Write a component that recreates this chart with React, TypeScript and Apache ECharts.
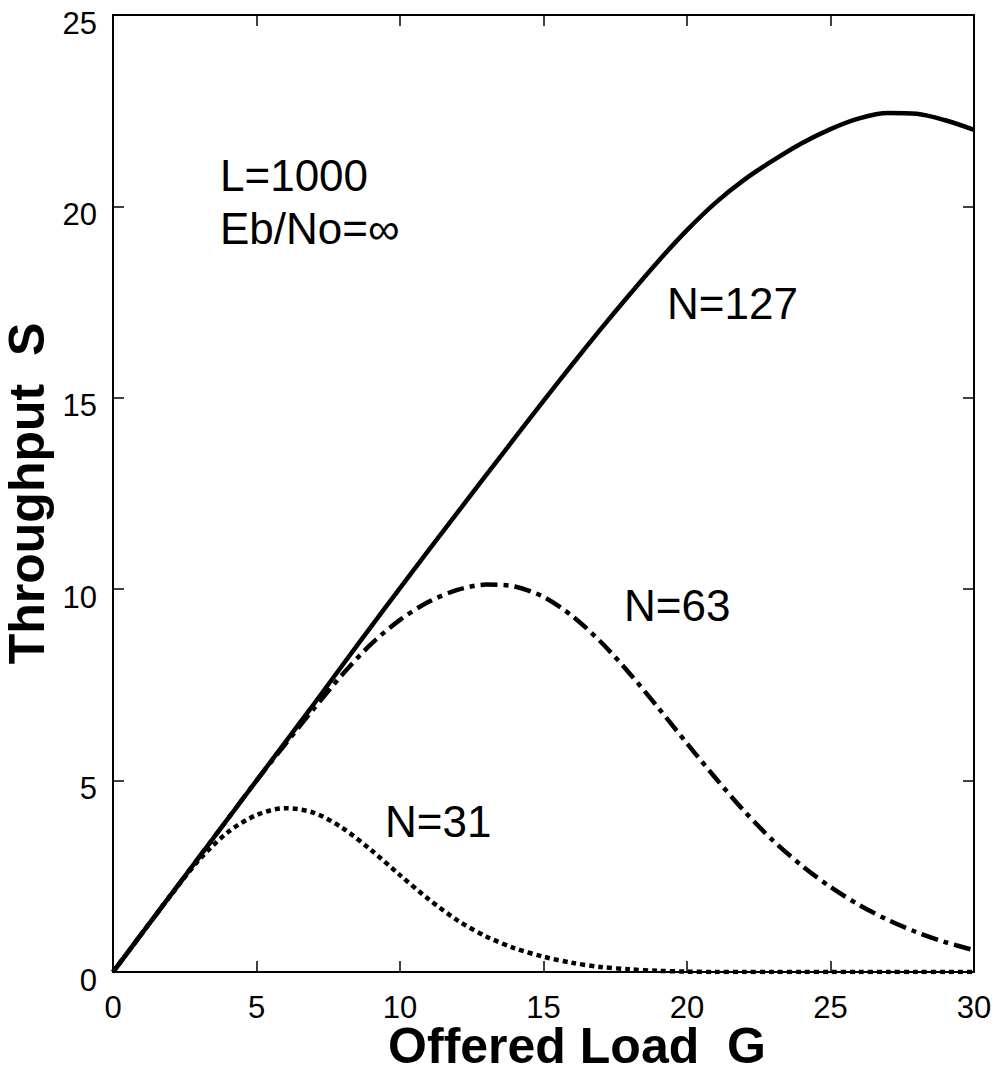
import React, { useEffect, useRef } from "react";
import * as echarts from "echarts";

const loadG = [0,1,2,3,4,5,6,7,8,9,10,11,12,13,14,15,16,17,18,19,20,21,22,23,24,25,26,27,28,29,30];
const sN127 = [0,1,2,3,4,5,6,7,8.02,9.03,10.03,11.02,12.0,12.98,13.95,14.92,15.87,16.8,17.7,18.57,19.38,20.1,20.7,21.2,21.65,22.02,22.3,22.44,22.42,22.25,22.0];
const sN63 = [0,1,2,3,4,5,5.95,6.88,7.78,8.57,9.2,9.67,9.98,10.12,10.07,9.8,9.3,8.62,7.8,6.9,5.97,5.06,4.2,3.43,2.78,2.22,1.75,1.36,1.04,0.78,0.57];
const sN31 = [0,1,1.99,2.93,3.65,4.1,4.28,4.16,3.76,3.18,2.53,1.9,1.35,0.93,0.62,0.4,0.24,0.13,0.07,0.03,0.01,0,0,0,0,0,0,0,0,0,0];
const seriesNames = ["N=127", "N=63", "N=31"];
const infoLines = ["L=1000", "Eb/No=\u221E"];
const xAxisTitle = "Offered Load  G";
const yAxisTitle = "Throughput  S";

const FONT = "'Liberation Sans', Arial, Helvetica, sans-serif";

export default function App() {
  const ref = useRef<HTMLDivElement>(null);
  useEffect(() => {
    if (!ref.current) return;
    const chart = echarts.init(ref.current, null, { renderer: "svg" });
    const pairs = (ys: number[]) => loadG.map((g, i) => [g, ys[i]]);
    const axisLine = { show: true, onZero: false, lineStyle: { color: "#000", width: 2 } };
    const tickIn = { show: true, inside: true, length: 11, lineStyle: { color: "#000", width: 1.5 } };
    const labelStyle = { color: "#000", fontSize: 31, lineHeight: 28, fontFamily: FONT };
    const textStyle = { fill: "#000", fontSize: 44, fontFamily: FONT };
    const nameStyle = { color: "#000", fontSize: 50, lineHeight: 48, fontWeight: "bold", fontFamily: FONT };
    chart.setOption({
      animation: false,
      backgroundColor: "#fff",
      grid: { left: 113, top: 15, right: 22, bottom: 101, containLabel: false, outerBoundsMode: "none" },
      xAxis: [
        {
          type: "value", min: 0, max: 30, interval: 5, position: "bottom",
          axisLine, axisTick: tickIn, splitLine: { show: false },
          axisLabel: { ...labelStyle, margin: 21 },
        },
        {
          type: "value", min: 0, max: 30, interval: 5, position: "top",
          axisLine, axisTick: tickIn, splitLine: { show: false }, axisLabel: { show: false },
        },
      ],
      yAxis: [
        {
          type: "value", min: 0, max: 25, interval: 5, position: "left",
          axisLine, axisTick: tickIn, splitLine: { show: false },
          axisLabel: {
            margin: 16,
            formatter: "{a|{value}}",
            rich: { a: { ...labelStyle, padding: [16, 0, 0, 0] } },
          },
          name: yAxisTitle, nameLocation: "middle", nameGap: 52, nameRotate: 90,
          nameTextStyle: nameStyle,
        },
        {
          type: "value", min: 0, max: 25, interval: 5, position: "right",
          axisLine, axisTick: tickIn, splitLine: { show: false }, axisLabel: { show: false },
        },
      ],
      series: [
        {
          name: seriesNames[0], type: "line", data: pairs(sN127), smooth: 0.3, symbol: "none",
          lineStyle: { color: "#000", width: 4.5 },
        },
        {
          name: seriesNames[1], type: "line", data: pairs(sN63), smooth: 0.3, symbol: "none",
          lineStyle: { color: "#000", width: 4.5, type: [17, 6, 5, 6] },
        },
        {
          name: seriesNames[2], type: "line", data: pairs(sN31), smooth: 0.3, symbol: "none",
          lineStyle: { color: "#000", width: 4.5, type: [5, 4] },
        },
      ],
      graphic: [
        {
          type: "text", x: 577, y: 1046,
          style: { text: xAxisTitle, fill: "#000", fontSize: 50, lineHeight: 34, fontWeight: "bold", fontFamily: FONT, align: "center", verticalAlign: "middle" },
        },
        { type: "text", left: 220, top: 153, style: { ...textStyle, text: infoLines[0] } },
        { type: "text", left: 220, top: 206, style: { ...textStyle, text: infoLines[1] } },
        { type: "text", left: 667, top: 281, style: { ...textStyle, text: seriesNames[0] } },
        { type: "text", left: 624, top: 583, style: { ...textStyle, text: seriesNames[1] } },
        { type: "text", left: 385, top: 799, style: { ...textStyle, text: seriesNames[2] } },
      ],
    });
    return () => chart.dispose();
  }, []);
  return <div ref={ref} style={{ position: "fixed", left: 0, top: 0, width: 996, height: 1073, background: "#fff" }} />;
}
